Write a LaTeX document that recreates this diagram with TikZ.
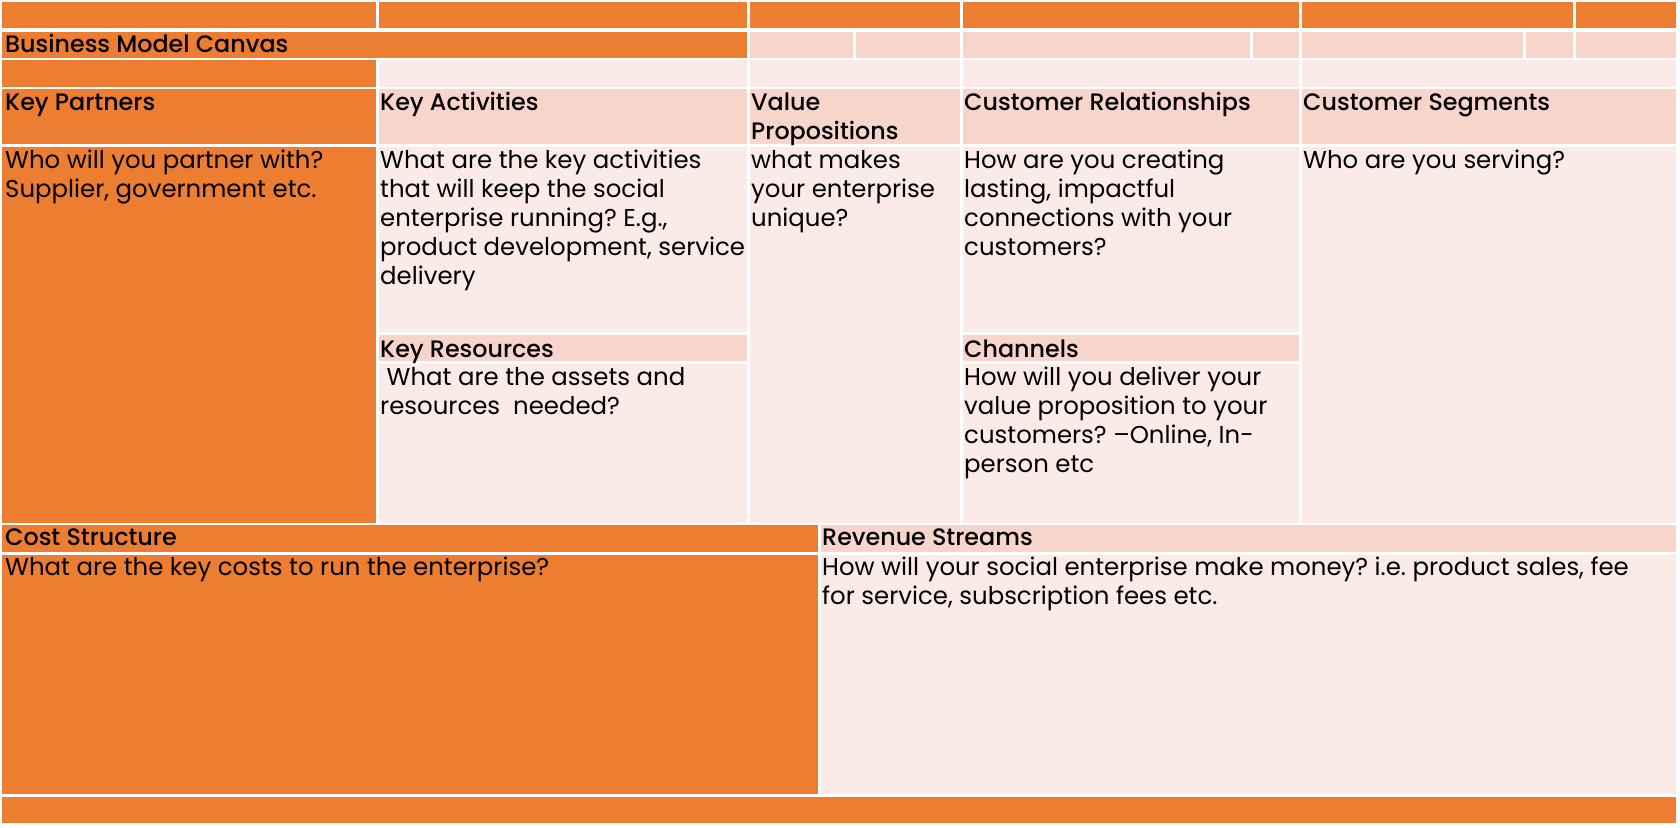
\documentclass[tikz,border=0pt]{standalone}
\usepackage{fontspec}
\setmainfont{Poppins}
\newfontfamily\headfont{Poppins Medium}
\frenchspacing

\definecolor{bmcorange}{HTML}{ED7D31}
\definecolor{bmcpink}{HTML}{F8D5CB}
\definecolor{bmclight}{HTML}{FBEBE6}

\newcommand\bmccell[5]{\fill[#1] (#2,#3) rectangle (#4,#5);}

% multi-line texts are anchored at the baseline of their last line
\tikzset{
  bodytext/.style={anchor=base west, inner sep=0pt, align=left,
    font=\fontsize{24.4}{29}\selectfont},
  headtext/.style={anchor=base west, inner sep=0pt, align=left,
    font=\headfont\fontsize{23.8}{29}\selectfont},
}

\begin{document}
\begin{tikzpicture}[x=1pt,y=-1pt]
\fill[white] (0,0) rectangle (1680,827);
\useasboundingbox (0,0) rectangle (1680,827);

% top band
\bmccell{bmcorange}{2}{2}{376}{28}
\bmccell{bmcorange}{379}{2}{747}{28}
\bmccell{bmcorange}{750}{2}{960}{28}
\bmccell{bmcorange}{963}{2}{1299}{28}
\bmccell{bmcorange}{1302}{2}{1573}{28}
\bmccell{bmcorange}{1576}{2}{1676}{28}

% title row
\bmccell{bmcorange}{2}{32}{747}{58}
\bmccell{bmcpink}{750}{32}{853}{58}
\bmccell{bmcpink}{856}{32}{960}{58}
\bmccell{bmcpink}{963}{32}{1250}{58}
\bmccell{bmcpink}{1253}{32}{1299}{58}
\bmccell{bmcpink}{1302}{32}{1523}{58}
\bmccell{bmcpink}{1526}{32}{1573}{58}
\bmccell{bmcpink}{1576}{32}{1676}{58}

% spacer row
\bmccell{bmcorange}{2}{60}{376}{87}
\bmccell{bmclight}{379}{60}{747}{87}
\bmccell{bmclight}{750}{60}{960}{87}
\bmccell{bmclight}{963}{60}{1299}{87}
\bmccell{bmclight}{1302}{60}{1676}{87}

% block headers
\bmccell{bmcorange}{2}{89}{376}{144}
\bmccell{bmcpink}{379}{89}{747}{144}
\bmccell{bmcpink}{750}{89}{960}{144}
\bmccell{bmcpink}{963}{89}{1299}{144}
\bmccell{bmcpink}{1302}{89}{1676}{144}

% block bodies
\bmccell{bmcorange}{2}{147}{376}{523}
\bmccell{bmclight}{379}{147}{747}{332}
\bmccell{bmcpink}{379}{335}{747}{361}
\bmccell{bmclight}{379}{364}{747}{523}
\bmccell{bmclight}{750}{147}{960}{523}
\bmccell{bmclight}{963}{147}{1299}{332}
\bmccell{bmcpink}{963}{335}{1299}{361}
\bmccell{bmclight}{963}{364}{1299}{523}
\bmccell{bmclight}{1302}{147}{1676}{523}

% cost / revenue
\bmccell{bmcorange}{2}{525}{818}{552}
\bmccell{bmcpink}{821}{525}{1676}{552}
\bmccell{bmcorange}{2}{555}{818}{794}
\bmccell{bmclight}{821}{555}{1676}{794}

% bottom band
\bmccell{bmcorange}{2}{797}{1676}{823}

% texts
\node[headtext] (title) at (5,52) {Business Model Canvas};

\node[headtext] (kph) at (5,110) {Key Partners};
\node[headtext] (kah) at (380,110) {Key Activities};
\node[headtext] (vph) at (751,139) {Value\\Propositions};
\node[headtext] (crh) at (964,110) {Customer Relationships};
\node[headtext] (csh) at (1303,110) {Customer Segments};

\node[bodytext] (kpb) at (5,197) {Who will you partner with?\\Supplier, government etc.};
\node[bodytext] (kab) at (380,284) {What are the key activities\\that will keep the social\\enterprise running? E.g.,\\product development, service\\delivery};
\node[bodytext] (vpb) at (751,226) {what makes\\your enterprise\\unique?};
\node[bodytext] (crb) at (964,255) {How are you creating\\lasting, impactful\\connections with your\\customers?};
\node[bodytext] (csb) at (1303,168) {Who are you serving?};

\node[headtext] (krh) at (380,357) {Key Resources};
\node[bodytext] (krb) at (380,414) {\ What are the assets and\\resources\ \ needed?};
\node[headtext] (chh) at (964,357) {Channels};
\node[bodytext] (chb) at (964,472) {How will you deliver your\\value proposition to your\\customers? –Online, In-\\person etc};

\node[headtext] (csth) at (5,545) {Cost Structure};
\node[bodytext] (cstb) at (5,575) {What are the key costs to run the enterprise?};
\node[headtext] (rsh) at (822,545) {Revenue Streams};
\node[bodytext] (rsb) at (822,604) {How will your social enterprise make money? i.e. product sales, fee\\for service, subscription fees etc.};
\end{tikzpicture}
\end{document}
